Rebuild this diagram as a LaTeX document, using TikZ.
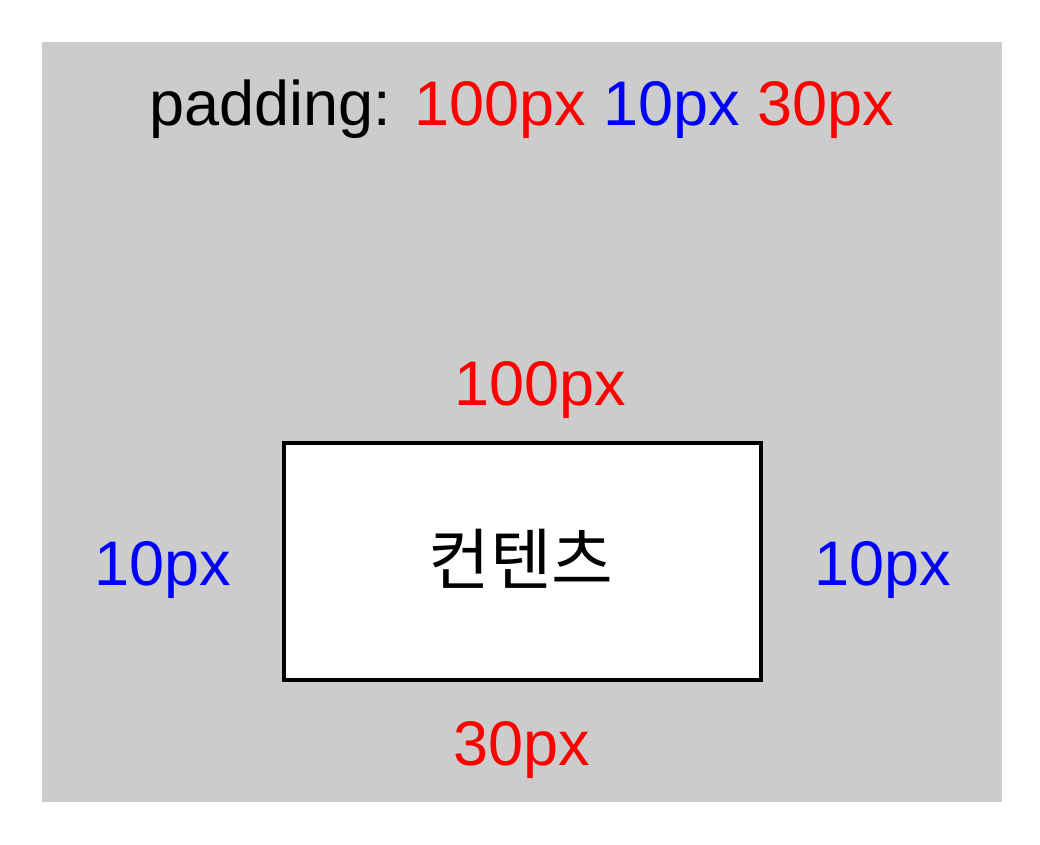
\documentclass[tikz,border=0pt]{standalone}
\usepackage{fontspec}
\setmainfont{Liberation Sans}
\newfontfamily\cjk{Noto Sans CJK KR}
\begin{document}
\begin{tikzpicture}[x=1pt,y=-1pt,
    every node/.style={font=\fontsize{63}{76}\selectfont,inner sep=0pt,anchor=base}]

      \useasboundingbox (0,0) rectangle (1040,844);
      \fill[black!20] (42,42) rectangle (1002,802);

      \node[draw,line width=4pt,fill=white,minimum width=477pt,minimum height=237pt,anchor=center] (content) at (522.5,561.5) {};
      \node[anchor=center,font=\fontsize{67}{80}\selectfont] (label) at (521,559) {\cjk 컨텐츠};

      \node (rule)   at (522,125) {padding: \textcolor{red}{100px} \textcolor{blue}{10px} \textcolor{red}{30px}};
      \node[red]  (top)    at (540,405) {100px};
      \node[blue] (left)   at (163,585) {10px};
      \node[blue] (right)  at (883,585) {10px};
      \node[red]  (bottom) at (522,765) {30px};

    \end{tikzpicture}
\end{document}
